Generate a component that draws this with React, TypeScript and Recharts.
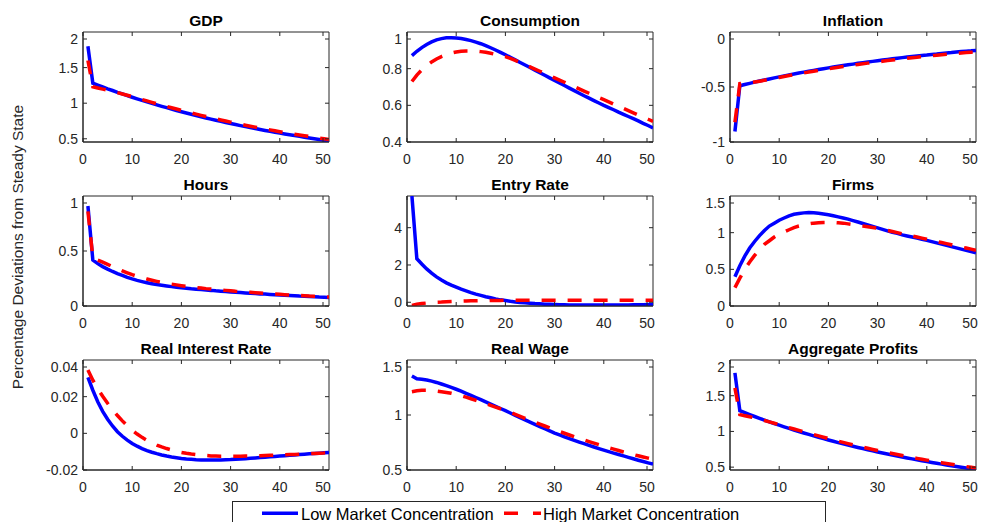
import { LineChart, Line, XAxis, YAxis, ReferenceArea } from "recharts";

const periods = [
  1, 2, 3, 4, 5, 6, 7, 8, 9, 10, 11, 12, 13, 14, 15, 16, 17, 18, 19, 20, 21, 22, 23, 24, 25,
  26, 27, 28, 29, 30, 31, 32, 33, 34, 35, 36, 37, 38, 39, 40, 41, 42, 43, 44, 45, 46, 47, 48, 49, 50,
];
const xTicks = [0, 10, 20, 30, 40, 50];

// Low market concentration (blue) / high market concentration (red)
const gdpLow = [
  1.8, 1.28, 1.254, 1.228, 1.202, 1.178, 1.153, 1.13, 1.106, 1.084, 1.061, 1.039, 1.018, 0.997, 0.976,
  0.956, 0.937, 0.917, 0.898, 0.88, 0.862, 0.844, 0.826, 0.809, 0.793, 0.776, 0.76, 0.745, 0.729, 0.714,
  0.7, 0.685, 0.671, 0.657, 0.644, 0.63, 0.617, 0.605, 0.592, 0.58, 0.568, 0.556, 0.545, 0.534, 0.523,
  0.512, 0.501, 0.491, 0.481, 0.471,
];
const gdpHigh = [
  1.6, 1.23, 1.214, 1.198, 1.182, 1.166, 1.148, 1.13, 1.111, 1.092, 1.071, 1.051, 1.032, 1.012, 0.992,
  0.973, 0.955, 0.936, 0.918, 0.9, 0.882, 0.864, 0.846, 0.829, 0.813, 0.796, 0.78, 0.765, 0.749, 0.734,
  0.72, 0.705, 0.691, 0.677, 0.664, 0.65, 0.637, 0.625, 0.612, 0.6, 0.588, 0.576, 0.565, 0.554, 0.543,
  0.532, 0.521, 0.511, 0.501, 0.491,
];
const consLow = [
  0.871, 0.895, 0.915, 0.932, 0.946, 0.957, 0.964, 0.968, 0.969, 0.967, 0.964, 0.959, 0.953, 0.945, 0.936,
  0.926, 0.914, 0.902, 0.889, 0.876, 0.862, 0.848, 0.834, 0.82, 0.806, 0.792, 0.778, 0.764, 0.75, 0.736,
  0.722, 0.708, 0.694, 0.68, 0.666, 0.652, 0.639, 0.626, 0.613, 0.6, 0.588, 0.576, 0.563, 0.551, 0.539,
  0.527, 0.515, 0.502, 0.49, 0.477,
];
const consHigh = [
  0.73, 0.765, 0.793, 0.817, 0.837, 0.853, 0.866, 0.877, 0.885, 0.891, 0.895, 0.897, 0.897, 0.896, 0.893,
  0.889, 0.884, 0.878, 0.872, 0.866, 0.856, 0.845, 0.833, 0.822, 0.81, 0.798, 0.786, 0.774, 0.762, 0.75,
  0.738, 0.726, 0.714, 0.702, 0.69, 0.678, 0.666, 0.654, 0.642, 0.631, 0.619, 0.607, 0.595, 0.583, 0.571,
  0.559, 0.547, 0.535, 0.524, 0.512,
];
const inflLow = [
  -0.904, -0.488, -0.477, -0.467, -0.456, -0.446, -0.436, -0.427, -0.417, -0.408, -0.399, -0.39, -0.382,
  -0.373, -0.365, -0.357, -0.349, -0.341, -0.334, -0.326, -0.319, -0.312, -0.305, -0.298, -0.292, -0.285,
  -0.279, -0.273, -0.267, -0.261, -0.255, -0.25, -0.244, -0.239, -0.233, -0.228, -0.223, -0.218, -0.213,
  -0.209, -0.204, -0.2, -0.195, -0.191, -0.187, -0.182, -0.178, -0.174, -0.171, -0.167,
];
const inflHigh = [
  -0.82, -0.47, -0.466, -0.461, -0.454, -0.447, -0.439, -0.43, -0.421, -0.413, -0.405, -0.396, -0.388,
  -0.38, -0.372, -0.364, -0.357, -0.349, -0.342, -0.335, -0.328, -0.321, -0.314, -0.308, -0.301, -0.295,
  -0.289, -0.283, -0.277, -0.271, -0.266, -0.26, -0.255, -0.25, -0.244, -0.239, -0.234, -0.23, -0.225,
  -0.22, -0.216, -0.211, -0.207, -0.203, -0.199, -0.195, -0.191, -0.187, -0.184, -0.181,
];
const hoursLow = [
  0.909, 0.417, 0.385, 0.358, 0.335, 0.314, 0.295, 0.278, 0.261, 0.246, 0.233, 0.222, 0.212, 0.203, 0.195,
  0.188, 0.182, 0.176, 0.171, 0.166, 0.162, 0.157, 0.153, 0.149, 0.145, 0.142, 0.138, 0.135, 0.131, 0.128,
  0.125, 0.122, 0.119, 0.116, 0.113, 0.11, 0.108, 0.105, 0.102, 0.1, 0.097, 0.095, 0.093, 0.09, 0.088,
  0.086, 0.084, 0.081, 0.079, 0.077,
];
const hoursHigh = [
  0.86, 0.44, 0.418, 0.398, 0.378, 0.358, 0.339, 0.32, 0.302, 0.285, 0.27, 0.257, 0.245, 0.234, 0.224,
  0.215, 0.207, 0.199, 0.192, 0.185, 0.179, 0.173, 0.168, 0.163, 0.158, 0.154, 0.15, 0.146, 0.142, 0.138,
  0.134, 0.131, 0.127, 0.124, 0.121, 0.118, 0.115, 0.112, 0.109, 0.106, 0.103, 0.1, 0.098, 0.095, 0.093,
  0.09, 0.088, 0.085, 0.083, 0.081,
];
const entryLow = [
  5.7, 2.34, 2.05, 1.79, 1.56, 1.36, 1.19, 1.04, 0.92, 0.81, 0.7, 0.61, 0.52, 0.44, 0.37, 0.3, 0.24, 0.18,
  0.13, 0.09, 0.05, 0.02, -0.01, -0.03, -0.05, -0.07, -0.08, -0.1, -0.11, -0.12, -0.13, -0.13, -0.14,
  -0.14, -0.14, -0.15, -0.15, -0.15, -0.15, -0.15, -0.15, -0.14, -0.14, -0.14, -0.14, -0.13, -0.13, -0.13,
  -0.12, -0.12,
];
const entryHigh = [
  -0.17, -0.1, -0.07, -0.04, -0.02, 0.0, 0.01, 0.03, 0.04, 0.05, 0.06, 0.07, 0.08, 0.08, 0.09, 0.09, 0.1,
  0.1, 0.1, 0.11, 0.11, 0.11, 0.11, 0.11, 0.11, 0.11, 0.11, 0.11, 0.11, 0.11, 0.11, 0.11, 0.11, 0.11,
  0.11, 0.11, 0.11, 0.11, 0.11, 0.11, 0.11, 0.11, 0.11, 0.11, 0.11, 0.11, 0.11, 0.11, 0.11, 0.11,
];
const firmsLow = [
  0.4, 0.55, 0.68, 0.79, 0.88, 0.96, 1.03, 1.09, 1.13, 1.17, 1.2, 1.23, 1.25, 1.26, 1.27, 1.275, 1.27,
  1.265, 1.255, 1.245, 1.23, 1.215, 1.2, 1.185, 1.165, 1.145, 1.125, 1.105, 1.085, 1.065, 1.045, 1.025,
  1.005, 0.99, 0.97, 0.955, 0.94, 0.925, 0.91, 0.895, 0.878, 0.861, 0.844, 0.827, 0.81, 0.793, 0.776,
  0.759, 0.742, 0.725,
];
const firmsHigh = [
  0.25, 0.38, 0.5, 0.6, 0.69, 0.77, 0.84, 0.89, 0.94, 0.98, 1.01, 1.04, 1.07, 1.09, 1.105, 1.12, 1.13,
  1.135, 1.14, 1.14, 1.14, 1.135, 1.13, 1.12, 1.11, 1.1, 1.09, 1.08, 1.07, 1.06, 1.045, 1.03, 1.015, 1.0,
  0.985, 0.97, 0.955, 0.94, 0.925, 0.91, 0.895, 0.88, 0.865, 0.85, 0.835, 0.82, 0.805, 0.79, 0.775, 0.76,
];
const rateLow = [
  0.0305, 0.0235, 0.0172, 0.012, 0.0077, 0.004, 0.0009, -0.0016, -0.0037, -0.0055, -0.007, -0.0083,
  -0.0094, -0.0103, -0.0111, -0.0118, -0.0124, -0.0129, -0.0133, -0.0137, -0.014, -0.0142, -0.0144,
  -0.0145, -0.0146, -0.0146, -0.0146, -0.0145, -0.0144, -0.0143, -0.0141, -0.014, -0.0138, -0.0136,
  -0.0134, -0.0132, -0.013, -0.0128, -0.0126, -0.0124, -0.0122, -0.012, -0.0118, -0.0116, -0.0114,
  -0.0112, -0.011, -0.0108, -0.0106, -0.0104,
];
const rateHigh = [
  0.0346, 0.029, 0.0243, 0.0202, 0.0164, 0.0129, 0.0097, 0.0068, 0.0041, 0.0017, -0.0004, -0.0022,
  -0.0038, -0.0052, -0.0064, -0.0074, -0.0083, -0.0091, -0.0098, -0.0104, -0.0109, -0.0113, -0.0116,
  -0.0119, -0.0121, -0.0123, -0.0124, -0.0125, -0.0125, -0.0125, -0.0125, -0.0125, -0.0124, -0.0124,
  -0.0123, -0.0122, -0.0121, -0.012, -0.0119, -0.0118, -0.0117, -0.0116, -0.0115, -0.0114, -0.0112,
  -0.0111, -0.011, -0.0108, -0.0107, -0.0105,
];
const wageLow = [
  1.355, 1.33, 1.325, 1.318, 1.308, 1.296, 1.282, 1.267, 1.251, 1.234, 1.216, 1.197, 1.178, 1.159, 1.139,
  1.119, 1.099, 1.079, 1.059, 1.039, 1.018, 0.997, 0.976, 0.955, 0.935, 0.915, 0.895, 0.875, 0.855, 0.836,
  0.819, 0.802, 0.786, 0.77, 0.754, 0.739, 0.724, 0.709, 0.694, 0.68, 0.667, 0.654, 0.641, 0.628, 0.615,
  0.602, 0.589, 0.577, 0.565, 0.553,
];
const wageHigh = [
  1.212, 1.22, 1.224, 1.224, 1.222, 1.218, 1.212, 1.205, 1.197, 1.187, 1.175, 1.162, 1.148, 1.133, 1.118,
  1.103, 1.087, 1.071, 1.057, 1.042, 1.024, 1.006, 0.988, 0.97, 0.952, 0.935, 0.917, 0.9, 0.883, 0.866,
  0.85, 0.834, 0.818, 0.803, 0.788, 0.773, 0.758, 0.744, 0.73, 0.716, 0.703, 0.69, 0.677, 0.664, 0.652,
  0.64, 0.629, 0.618, 0.608, 0.598,
];
const profitsLow = [
  1.82, 1.29, 1.262, 1.235, 1.209, 1.183, 1.158, 1.134, 1.11, 1.087, 1.064, 1.042, 1.02, 0.999, 0.978,
  0.958, 0.938, 0.918, 0.899, 0.88, 0.862, 0.844, 0.826, 0.809, 0.792, 0.776, 0.76, 0.744, 0.728, 0.713,
  0.698, 0.684, 0.67, 0.656, 0.642, 0.629, 0.616, 0.603, 0.59, 0.578, 0.566, 0.554, 0.542, 0.531, 0.52,
  0.509, 0.498, 0.488, 0.478, 0.468,
];
const profitsHigh = [
  1.61, 1.235, 1.22, 1.205, 1.189, 1.171, 1.153, 1.134, 1.115, 1.095, 1.074, 1.054, 1.034, 1.014, 0.994,
  0.975, 0.956, 0.937, 0.919, 0.9, 0.882, 0.864, 0.846, 0.829, 0.812, 0.796, 0.78, 0.764, 0.748, 0.733,
  0.718, 0.704, 0.69, 0.676, 0.662, 0.649, 0.636, 0.623, 0.61, 0.598, 0.586, 0.574, 0.562, 0.551, 0.54,
  0.529, 0.518, 0.508, 0.498, 0.488,
];

const FONT = "'Liberation Sans', Arial, Helvetica, sans-serif";
const AXIS = "#262626";
const BLUE = "#0000ff";
const RED = "#ff0000";
const DASH = "14 12";
const TICK = 4;

const colLeft = [83, 407, 730];
const rowTop = [32, 196, 360];
const PW = 246;
const PH = 110;
const YW = 60;
const XH = 30;
const PAD = 2;

// inward tick marks on both sides of the box, MATLAB style
const bottomTick = (p: any) => (
  <g>
    <line x1={p.x} x2={p.x} y1={p.y} y2={p.y - TICK} stroke={AXIS} />
    <line x1={p.x} x2={p.x} y1={p.y - PH} y2={p.y - PH + TICK} stroke={AXIS} />
    <text x={p.x} y={p.y + 12} dy="0.71em" textAnchor="middle" fontSize={14} fill={AXIS} fontFamily={FONT}>
      {p.payload.value}
    </text>
  </g>
);
const leftTick = (p: any) => (
  <g>
    <line x1={p.x} x2={p.x + TICK} y1={p.y} y2={p.y} stroke={AXIS} />
    <line x1={p.x + PW} x2={p.x + PW - TICK} y1={p.y} y2={p.y} stroke={AXIS} />
    <text x={p.x - 5} y={p.y} dy="0.355em" textAnchor="end" fontSize={14} fill={AXIS} fontFamily={FONT}>
      {p.payload.value}
    </text>
  </g>
);

type PanelProps = {
  title: string;
  low: number[];
  high: number[];
  yDomain: [number, number];
  yTicks: number[];
  col: number;
  row: number;
};

function Panel({ title, low, high, yDomain, yTicks, col, row }: PanelProps) {
  const data = periods.map((t, i) => ({ t, low: low[i], high: high[i] }));
  const left = colLeft[col];
  const top = rowTop[row];
  return (
    <>
      <div
        style={{
          position: "absolute",
          left,
          top: top - 20,
          width: PW,
          textAlign: "center",
          fontFamily: FONT,
          fontWeight: "bold",
          fontSize: 15.5,
          lineHeight: "17px",
          color: "#000",
        }}
      >
        {title}
      </div>
      <div style={{ position: "absolute", left: left - YW, top: top - PAD }}>
        <LineChart
          width={YW + PW + PAD}
          height={PH + XH + PAD}
          data={data}
          margin={{ top: PAD, right: PAD, bottom: 0, left: 0 }}
        >
          <XAxis
            xAxisId="b"
            dataKey="t"
            type="number"
            domain={[0, 50]}
            ticks={xTicks}
            allowDataOverflow
            height={XH}
            tickSize={0}
            tickMargin={0}
            axisLine={{ stroke: AXIS }}
            tickLine={false}
            tick={bottomTick}
          />
          <YAxis
            yAxisId="l"
            type="number"
            domain={yDomain}
            ticks={yTicks}
            allowDataOverflow
            width={YW}
            tickSize={0}
            tickMargin={0}
            axisLine={{ stroke: AXIS }}
            tickLine={false}
            tick={leftTick}
          />
          <ReferenceArea
            xAxisId="b"
            yAxisId="l"
            x1={0}
            x2={50}
            y1={yDomain[0]}
            y2={yDomain[1]}
            fill="none"
            fillOpacity={0}
            stroke={AXIS}
            strokeWidth={1}
            ifOverflow="visible"
          />
          <Line
            xAxisId="b"
            yAxisId="l"
            type="linear"
            dataKey="low"
            stroke={BLUE}
            strokeWidth={3.5}
            dot={false}
            activeDot={false}
            isAnimationActive={false}
          />
          <Line
            xAxisId="b"
            yAxisId="l"
            type="linear"
            dataKey="high"
            stroke={RED}
            strokeWidth={3.5}
            strokeDasharray={DASH}
            dot={false}
            activeDot={false}
            isAnimationActive={false}
          />
        </LineChart>
      </div>
    </>
  );
}

export default function App() {
  return (
    <div
      style={{
        position: "absolute",
        left: 0,
        top: 0,
        width: 982,
        height: 522,
        overflow: "hidden",
        background: "#fff",
        fontFamily: FONT,
      }}
    >
      <Panel title="GDP" low={gdpLow} high={gdpHigh} yDomain={[0.455, 2]} yTicks={[0.5, 1, 1.5, 2]} col={0} row={0} />
      <Panel title="Consumption" low={consLow} high={consHigh} yDomain={[0.4, 1]} yTicks={[0.4, 0.6, 0.8, 1]} col={1} row={0} />
      <Panel title="Inflation" low={inflLow} high={inflHigh} yDomain={[-1, 0]} yTicks={[-1, -0.5, 0]} col={2} row={0} />
      <Panel title="Hours" low={hoursLow} high={hoursHigh} yDomain={[0, 1]} yTicks={[0, 0.5, 1]} col={0} row={1} />
      <Panel title="Entry Rate" low={entryLow} high={entryHigh} yDomain={[-0.2, 5.7]} yTicks={[0, 2, 4]} col={1} row={1} />
      <Panel title="Firms" low={firmsLow} high={firmsHigh} yDomain={[0, 1.5]} yTicks={[0, 0.5, 1, 1.5]} col={2} row={1} />
      <Panel title="Real Interest Rate" low={rateLow} high={rateHigh} yDomain={[-0.02, 0.04]} yTicks={[-0.02, 0, 0.02, 0.04]} col={0} row={2} />
      <Panel title="Real Wage" low={wageLow} high={wageHigh} yDomain={[0.5, 1.5]} yTicks={[0.5, 1, 1.5]} col={1} row={2} />
      <Panel title="Aggregate Profits" low={profitsLow} high={profitsHigh} yDomain={[0.46, 2]} yTicks={[0.5, 1, 1.5, 2]} col={2} row={2} />

      <div
        style={{
          position: "absolute",
          left: 18,
          top: 247,
          transform: "translate(-50%, -50%) rotate(-90deg)",
          whiteSpace: "nowrap",
          fontSize: 15.5,
          color: AXIS,
        }}
      >
        Percentage Deviations from Steady State
      </div>

      <svg style={{ position: "absolute", left: 232, top: 501 }} width={594} height={21}>
        <rect x={0.5} y={0.5} width={593} height={40} fill="#fff" stroke={AXIS} strokeWidth={1} />
        <line x1={30} y1={12.3} x2={66} y2={12.3} stroke={BLUE} strokeWidth={3.5} />
        <text x={69} y={18.5} fontSize={16.5} fill="#000" fontFamily={FONT}>
          Low Market Concentration
        </text>
        <line x1={272} y1={12.3} x2={309} y2={12.3} stroke={RED} strokeWidth={3.5} strokeDasharray="14 15" />
        <text x={311} y={18.5} fontSize={16.5} fill="#000" fontFamily={FONT}>
          High Market Concentration
        </text>
      </svg>
    </div>
  );
}
